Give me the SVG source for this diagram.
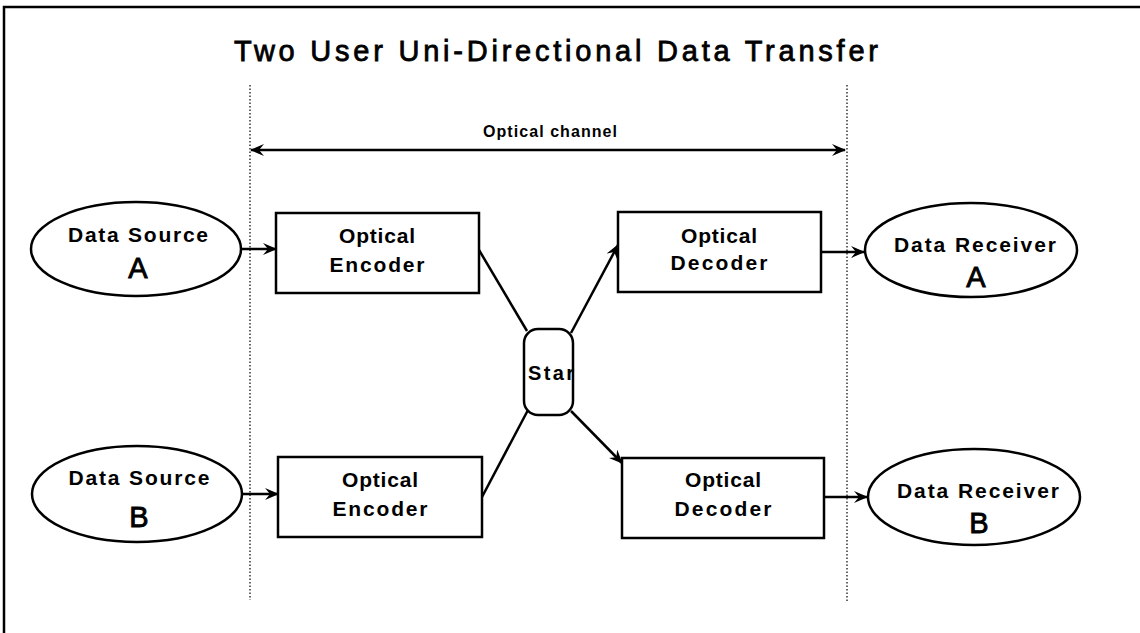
<svg xmlns="http://www.w3.org/2000/svg" width="1140" height="633" viewBox="0 0 1140 633">
  <style>
    .frame { fill: none; stroke: #000; stroke-width: 2.5; }
    .guide { fill: none; stroke: #000; stroke-width: 1.2; stroke-dasharray: 1.5 2; }
    .node { fill: #fff; stroke: #000; stroke-width: 2.5; }
    .link { fill: none; stroke: #000; stroke-width: 2.5; }
    .lbl { font-family: "Liberation Sans", Arial, sans-serif; font-weight: bold; fill: #000; text-anchor: middle; }
    .title { font-family: "Liberation Sans", Arial, sans-serif; font-size: 29px; fill: #000; stroke: #000; stroke-width: 0.8; }
    .letter { font-family: "Liberation Sans", Arial, sans-serif; font-size: 29px; fill: #000; stroke: #000; stroke-width: 0.9; text-anchor: middle; }
  </style>
  <defs>
    <marker id="head" viewBox="0 0 14 12" refX="13" refY="6" markerWidth="14" markerHeight="12" markerUnits="userSpaceOnUse" orient="auto-start-reverse">
      <path d="M0,0 L14,6 L0,12 L5,6 z" fill="#000"/>
    </marker>
  </defs>

  <rect width="1140" height="633" fill="#fff"/>

  <!-- page frame (top and left edges) -->
  <path class="frame" d="M1140,7 L4,7 L4,633"/>

  <!-- title -->
  <text class="title" x="234" y="61" textLength="644" lengthAdjust="spacing">Two User Uni-Directional Data Transfer</text>

  <!-- channel boundaries -->
  <line class="guide" x1="250" y1="85" x2="250" y2="600"/>
  <line class="guide" x1="847" y1="85" x2="847" y2="602"/>

  <!-- channel span -->
  <g id="channel">
    <line class="link" x1="251" y1="150" x2="845" y2="150" marker-start="url(#head)" marker-end="url(#head)"/>
    <text class="lbl" x="550" y="137" font-size="16" textLength="134" lengthAdjust="spacing">Optical channel</text>
  </g>

  <g id="connectors">
    <line class="link" x1="241" y1="249" x2="276" y2="249" marker-end="url(#head)"/>
    <line class="link" x1="479" y1="250" x2="527" y2="331"/>
    <line class="link" x1="571" y1="333" x2="618" y2="245" marker-end="url(#head)"/>
    <line class="link" x1="821" y1="252" x2="864" y2="252" marker-end="url(#head)"/>
    <line class="link" x1="242" y1="494" x2="278" y2="494" marker-end="url(#head)"/>
    <line class="link" x1="482" y1="497" x2="528" y2="410"/>
    <line class="link" x1="571" y1="411" x2="622" y2="463" marker-end="url(#head)"/>
    <line class="link" x1="824" y1="497" x2="867" y2="497" marker-end="url(#head)"/>
  </g>

  <g id="source-a">
    <ellipse class="node" cx="136" cy="249" rx="105" ry="47"/>
    <text class="lbl" x="138" y="242" font-size="21" textLength="140" lengthAdjust="spacing">Data Source</text>
    <text class="letter" x="138" y="278">A</text>
  </g>

  <g id="encoder-a">
    <rect class="node" x="276" y="213" width="203" height="80"/>
    <text class="lbl" x="377" y="243" font-size="21" textLength="76" lengthAdjust="spacing">Optical</text>
    <text class="lbl" x="377" y="272" font-size="21" textLength="95" lengthAdjust="spacing">Encoder</text>
  </g>

  <g id="star">
    <rect class="node" x="524" y="329" width="49" height="86" rx="14" ry="14"/>
    <text class="lbl" x="528" y="380" font-size="20" textLength="46" lengthAdjust="spacing" style="text-anchor:start">Star</text>
  </g>

  <g id="decoder-a">
    <rect class="node" x="618" y="212" width="203" height="80"/>
    <text class="lbl" x="719" y="243" font-size="21" textLength="76" lengthAdjust="spacing">Optical</text>
    <text class="lbl" x="719" y="270" font-size="21" textLength="97" lengthAdjust="spacing">Decoder</text>
  </g>

  <g id="receiver-a">
    <ellipse class="node" cx="971" cy="250" rx="106" ry="47"/>
    <text class="lbl" x="975" y="252" font-size="21" textLength="162" lengthAdjust="spacing">Data Receiver</text>
    <text class="letter" x="976" y="287">A</text>
  </g>

  <g id="source-b">
    <ellipse class="node" cx="137" cy="494" rx="105" ry="48"/>
    <text class="lbl" x="139" y="485" font-size="21" textLength="141" lengthAdjust="spacing">Data Source</text>
    <text class="letter" x="139" y="527">B</text>
  </g>

  <g id="encoder-b">
    <rect class="node" x="278" y="457" width="204" height="80"/>
    <text class="lbl" x="380" y="487" font-size="21" textLength="76" lengthAdjust="spacing">Optical</text>
    <text class="lbl" x="380" y="516" font-size="21" textLength="95" lengthAdjust="spacing">Encoder</text>
  </g>

  <g id="decoder-b">
    <rect class="node" x="622" y="458" width="202" height="80"/>
    <text class="lbl" x="723" y="487" font-size="21" textLength="76" lengthAdjust="spacing">Optical</text>
    <text class="lbl" x="723" y="516" font-size="21" textLength="97" lengthAdjust="spacing">Decoder</text>
  </g>

  <g id="receiver-b">
    <ellipse class="node" cx="974" cy="497" rx="106" ry="48"/>
    <text class="lbl" x="978" y="498" font-size="21" textLength="162" lengthAdjust="spacing">Data Receiver</text>
    <text class="letter" x="979" y="533">B</text>
  </g>
</svg>
